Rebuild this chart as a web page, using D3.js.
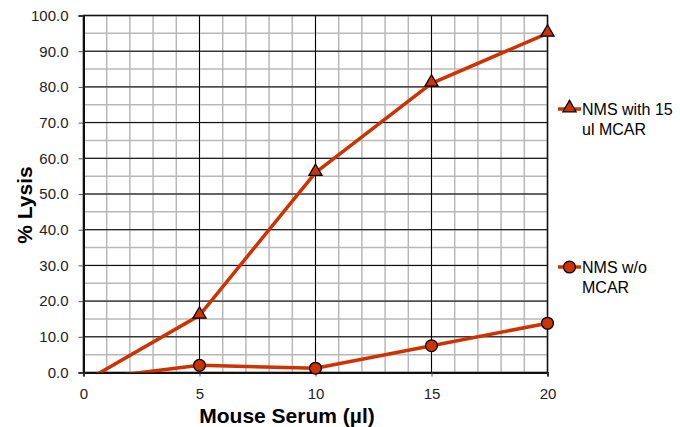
<!DOCTYPE html>
<html>
<head>
<meta charset="utf-8">
<script src="https://cdn.jsdelivr.net/npm/d3@7"></script>
<style>
  body { margin: 0; background: #fff; }
  svg { display: block; }
  .tick-lbl { font-family: "Liberation Sans Narrow", "Arial Narrow", "Liberation Sans", Arial, sans-serif; font-size: 15px; fill: #222; }
  .title { font-family: "Liberation Sans", Arial, sans-serif; font-weight: bold; font-size: 21px; fill: #000; }
  .legend { font-family: "Liberation Sans", Arial, sans-serif; font-size: 16px; fill: #000; }
</style>
</head>
<body>
<svg id="vis" width="680" height="427"></svg>
<script>
// serum volume (ul)
const serum = [0, 5, 10, 15, 20];
// % lysis (x=0 values sit below the axis and get clipped)
const withMcar = [-2.7, 16.0, 56.0, 81.0, 95.0];
const withoutMcar = [-2.0, 2.0, 1.2, 7.5, 13.8];
const seriesNames = [["NMS with 15", "ul MCAR"], ["NMS w/o", "MCAR"]];
const xTicks = [0, 5, 10, 15, 20];
const yTicks = [0, 10, 20, 30, 40, 50, 60, 70, 80, 90, 100];

const svg = d3.select("#vis");
const m = {left: 83.5, right: 547.5, top: 15.5, bottom: 372.5};
const red = "#cc3300";

const x = d3.scaleLinear().domain([0, 20]).range([m.left, m.right]);
const y = d3.scaleLinear().domain([0, 100]).range([m.bottom, m.top]);

// minor grid
const g = svg.append("g");
g.selectAll(".vminor").data(d3.range(0, 21, 1))
    .join("line")
    .attr("x1", d => x(d)).attr("x2", d => x(d))
    .attr("y1", m.top).attr("y2", m.bottom)
    .attr("stroke", "#b8b8b8").attr("stroke-width", 1.5);
g.selectAll(".hminor").data(d3.range(0, 101, 5))
    .join("line")
    .attr("y1", d => y(d)).attr("y2", d => y(d))
    .attr("x1", m.left).attr("x2", m.right)
    .attr("stroke", "#b8b8b8").attr("stroke-width", 1.5);
// major grid
g.selectAll(".vmajor").data(xTicks)
    .join("line")
    .attr("x1", d => x(d)).attr("x2", d => x(d))
    .attr("y1", m.top).attr("y2", m.bottom)
    .attr("stroke", "#000").attr("stroke-width", 1);
g.selectAll(".hmajor").data(yTicks)
    .join("line")
    .attr("y1", d => y(d)).attr("y2", d => y(d))
    .attr("x1", m.left).attr("x2", m.right)
    .attr("stroke", "#000").attr("stroke-width", 1);

// frame
svg.append("rect")
    .attr("x", m.left).attr("y", m.top)
    .attr("width", m.right - m.left).attr("height", m.bottom - m.top)
    .attr("fill", "none").attr("stroke", "#111").attr("stroke-width", 1.5);

// axes
const yAxis = svg.append("g").attr("transform", `translate(${m.left},0)`)
    .call(d3.axisLeft(y).tickValues(yTicks).tickFormat(d3.format(".1f")).tickSize(5).tickPadding(10));
const xAxis = svg.append("g").attr("transform", `translate(0,${m.bottom})`)
    .call(d3.axisBottom(x).tickValues(xTicks).tickSize(4).tickPadding(12));
[xAxis, yAxis].forEach(a => {
    a.select(".domain").attr("stroke", "#111").attr("stroke-width", 2);
    a.selectAll(".tick line").attr("stroke", "#555");
    a.selectAll("text").attr("class", "tick-lbl").attr("font-family", null).attr("font-size", null).attr("fill", null);
});

// titles
svg.append("text").attr("class", "title")
    .attr("x", 287).attr("y", 423).attr("text-anchor", "middle")
    .text("Mouse Serum (µl)");
svg.append("text").attr("class", "title")
    .attr("transform", "translate(32,205) rotate(-90)").attr("text-anchor", "middle")
    .text("% Lysis");

// series
svg.append("clipPath").attr("id", "clip").append("rect")
    .attr("x", m.left).attr("y", m.top - 10)
    .attr("width", m.right - m.left + 10).attr("height", m.bottom - m.top + 10);

const line = d3.line().x(d => x(d[0])).y(d => y(d[1]));
const sets = [withMcar, withoutMcar].map(vals => serum.map((s, i) => [s, vals[i]]));

sets.forEach(pts => {
    svg.append("path").datum(pts)
        .attr("clip-path", "url(#clip)")
        .attr("d", line)
        .attr("fill", "none").attr("stroke", red).attr("stroke-width", 3.5)
        .attr("stroke-linejoin", "round");
});

const tri = d3.symbol().type(d3.symbolTriangle).size(75);
const circ = d3.symbol().type(d3.symbolCircle).size(110);

svg.selectAll(".tri").data(sets[0].filter(d => d[1] >= 0))
    .join("path")
    .attr("transform", d => `translate(${x(d[0])},${y(d[1]) - 1})`)
    .attr("d", tri).attr("fill", red).attr("stroke", "#000").attr("stroke-width", 1.3);
svg.selectAll(".circ").data(sets[1].filter(d => d[1] >= 0))
    .join("path")
    .attr("transform", d => `translate(${x(d[0])},${y(d[1])})`)
    .attr("d", circ).attr("fill", red).attr("stroke", "#000").attr("stroke-width", 1.3);

// legend
const legY = [109, 267];
const shapes = [tri, circ];
seriesNames.forEach((names, i) => {
    const lg = svg.append("g").attr("transform", `translate(0,${legY[i]})`);
    lg.append("line").attr("x1", 558).attr("x2", 581).attr("y1", 0).attr("y2", 0)
        .attr("stroke", red).attr("stroke-width", 3.5);
    lg.append("path").attr("transform", `translate(569.5,${i === 0 ? -1 : 0})`)
        .attr("d", shapes[i]).attr("fill", red).attr("stroke", "#000").attr("stroke-width", 1.3);
    names.forEach((t, j) => {
        lg.append("text").attr("class", "legend")
            .attr("x", 582).attr("y", 6 + j * 20).text(t);
    });
});
</script>
</body>
</html>
